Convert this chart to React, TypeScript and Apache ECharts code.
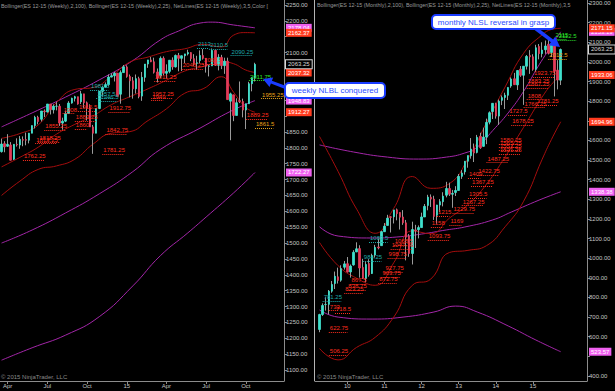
import React, { useEffect, useRef } from 'react';
import * as echarts from 'echarts';

const FONT = '"Liberation Sans", Arial, sans-serif';
const MONTHS = ['Jan', 'Feb', 'Mar', 'Apr', 'May', 'Jun', 'Jul', 'Aug', 'Sep', 'Oct', 'Nov', 'Dec'];

// ---------- categories ----------
const weeklySlotCount = 93; // week-ending Fridays from 2014-03-21
const weeklyCategories: string[] = Array.from({ length: weeklySlotCount }, (_, i) =>
  new Date(Date.UTC(2014, 2, 21) + i * 7 * 86400000).toISOString().slice(0, 10)
);
const monthlySlotCount = 87; // months from 2009-04
const monthlyCategories: string[] = Array.from({ length: monthlySlotCount }, (_, i) => {
  const m = 3 + i;
  return `${2009 + Math.floor(m / 12)}-${String((m % 12) + 1).padStart(2, '0')}`;
});

// ---------- weekly ES 12-15 candles ----------
const weeklyOpen = [
  1788, 1813, 1805, 1809, 1764, 1811, 1809, 1826, 1826, 1824,
  1846, 1870, 1896, 1890, 1916, 1913, 1938, 1920, 1931, 1931,
  1878, 1884, 1908, 1941, 1956, 1961, 1945, 1970, 1942, 1927,
  1866, 1846, 1924, 1978, 1991, 1999, 2023, 2027, 2035, 1969,
  2037, 2055, 2025, 2011, 1986, 2018, 1963, 2022, 2064, 2077,
  2071, 2039, 2027, 2082, 2035, 2041, 2076, 2055, 2091, 2082,
  2090, 2096, 2100, 2081, 2066, 2075, 2091, 2082, 2057, 2058,
  2107, 2060, 2085, 2059, 2073, 1947, 1967, 1902, 1949, 1946,
  1919, 1939, 2002, 2021,
];
const weeklyHigh = [
  1829, 1821, 1843, 1818, 1811, 1830, 1837, 1836, 1848, 1847,
  1870, 1901, 1901, 1916, 1921, 1938, 1938, 1937, 1944, 1938,
  1895, 1917, 1947, 1958, 1964, 1961, 1979, 1970, 1946, 1937,
  1872, 1925, 1978, 1994, 2006, 2031, 2035, 2039, 2036, 2044,
  2061, 2060, 2031, 2023, 2031, 2024, 2039, 2064, 2077, 2086,
  2084, 2050, 2088, 2088, 2063, 2076, 2085, 2094, 2099, 2091,
  2096, 2109, 2101, 2095, 2090, 2107, 2111, 2083, 2062, 2113,
  2109, 2095, 2093, 2084, 2084, 1974, 1967, 1956, 2009, 1955,
  1939, 2008, 2022, 2068,
];
const weeklyLow = [
  1785, 1786, 1803, 1760, 1762, 1804, 1797, 1805, 1808, 1814,
  1846, 1861, 1874, 1883, 1897, 1911, 1905, 1908, 1918, 1869,
  1857, 1881, 1908, 1939, 1946, 1936, 1938, 1925, 1886, 1866,
  1781, 1846, 1922, 1961, 1990, 1994, 2022, 2009, 1962, 1939,
  2036, 2021, 1959, 1955, 1971, 1956, 1948, 2008, 2052, 2070,
  2034, 2006, 2020, 2029, 2019, 2035, 2046, 2053, 2041, 2042,
  2067, 2091, 2073, 2059, 2046, 2066, 2078, 2037, 2025, 2058,
  2058, 2044, 2048, 2033, 1952, 1824, 1884, 1902, 1941, 1896,
  1859, 1938, 1978, 2009,
];
const weeklyClose = [
  1812, 1803, 1811, 1761, 1811, 1809, 1827, 1824, 1824, 1846,
  1870, 1896, 1883, 1916, 1914, 1938, 1920, 1931, 1931, 1878,
  1884, 1908, 1941, 1956, 1961, 1938, 1970, 1942, 1927, 1866,
  1846, 1924, 1978, 1991, 1999, 2023, 2027, 2035, 1962, 2037,
  2055, 2025, 2011, 1986, 2018, 1962, 2022, 2064, 2077, 2071,
  2038, 2020, 2082, 2035, 2041, 2076, 2055, 2091, 2082, 2090,
  2096, 2100, 2081, 2066, 2068, 2091, 2082, 2057, 2058, 2107,
  2060, 2085, 2059, 2073, 1952, 1970, 1902, 1942, 1946, 1919,
  1939, 2002, 2021, 2063,
];

// weekly Bollinger(2,100) & (2,25) read at sample weeks: [weekIndex, value]
const wBB100Upper = [[0, 1866], [10, 1910], [21, 1960], [32, 2014], [43, 2075], [52, 2140], [58, 2168], [65, 2193], [69, 2196], [76, 2187], [83, 2178.04]];
const wBB100Mid = [[0, 1500], [10, 1541], [21, 1595], [32, 1655], [43, 1725], [52, 1795], [65, 1862], [75, 1915], [83, 1948.83]];
const wBB100Lower = [[0, 1131], [10, 1170], [21, 1210], [32, 1268], [43, 1365], [52, 1460], [61, 1532], [67, 1582], [76, 1658], [83, 1722.27]];
const wBB25Upper = [[0, 1830], [6, 1845], [12, 1872], [18, 1943], [24, 1984], [30, 1990], [36, 2026], [42, 2070], [48, 2086], [54, 2103], [60, 2112], [66, 2126], [72, 2118], [76, 2155], [80, 2163], [83, 2162.37]];
const wBB25Mid = [[0, 1740], [6, 1770], [12, 1802], [18, 1843], [24, 1874], [30, 1901], [36, 1936], [42, 1961], [48, 1986], [54, 2013], [60, 2042], [66, 2056], [72, 2071], [76, 2065], [80, 2045], [83, 2037.32]];
const wBB25Lower = [[0, 1650], [6, 1695], [12, 1732], [18, 1743], [24, 1764], [30, 1812], [36, 1846], [42, 1851], [48, 1886], [54, 1923], [60, 1972], [66, 1986], [72, 2024], [76, 1975], [80, 1927], [83, 1912.27]];

// weekly NetLines levels and the week where each label starts
const weeklyRedNets = [1762.25, 1818.25, 1813.25, 1842.75, 1781.25, 1912.75, 1908, 1883.25, 1860, 1855.25, 1915.5, 1957.25, 1949, 2011.25, 2048.25, 2063.5, 1889.25];
const weeklyRedFrom = [7, 12, 11, 34, 33, 35, 20, 24, 24, 14, 25, 49, 49, 50, 59, 66, 80];
const weeklyOrangeNets = [1955.25, 1861.5];
const weeklyOrangeFrom = [85, 83];
const weeklyGreenNets = [2011.75];
const weeklyGreenFrom = [81];
const weeklyTealNets = [2113, 2110.5, 2090.25, 1981.5, 1957.5, 1946.5];
const weeklyTealFrom = [64, 68, 75, 29, 31, 32];

// weekly right-axis markers
const weeklyMarkerValues = [2178.04, 1948.83, 1722.27, 2162.37, 2037.32, 1912.27, 2063.25];
const weeklyMarkerKinds = ['bb100', 'bb100', 'bb100', 'bb25', 'bb25', 'bb25', 'last'];

// ---------- monthly ES 12-15 candles (Apr 2009 - Oct 2015) ----------
const monthlyOpen = [
  637, 713, 764, 765, 832, 871, 905, 888, 954,
  972, 930, 966, 1032, 1049, 953, 897, 973, 922, 1016, 1057, 1064,
  1135, 1167, 1211, 1211, 1247, 1233, 1210, 1180, 1113, 1024, 1144, 1145,
  1156, 1210, 1269, 1311, 1301, 1219, 1271, 1288, 1321, 1355, 1326, 1335,
  1345, 1417, 1440, 1494, 1522, 1561, 1539, 1620, 1570, 1617, 1693, 1747,
  1787, 1724, 1804, 1819, 1830, 1877, 1914, 1883, 1963, 1932, 1978, 2032,
  2026, 1963, 2079, 2042, 2062, 2090, 2048, 2086, 1958, 1907,
];
const monthlyHigh = [
  717, 770, 801, 838, 884, 932, 952, 964, 986,
  1006, 968, 1041, 1081, 1066, 997, 986, 995, 1023, 1068, 1100, 1139,
  1179, 1221, 1214, 1246, 1253, 1234, 1245, 1195, 1123, 1186, 1170, 1167,
  1232, 1276, 1323, 1325, 1318, 1272, 1301, 1336, 1389, 1385, 1348, 1367,
  1429, 1449, 1495, 1522, 1612, 1584, 1628, 1639, 1665, 1711, 1748, 1790,
  1792, 1808, 1829, 1843, 1870, 1921, 1944, 1958, 1979, 1978, 2035, 2060,
  2039, 2087, 2091, 2100, 2109, 2111, 2113, 2094, 2009, 2068,
];
const monthlyLow = [
  623, 706, 733, 714, 824, 843, 871, 880, 942,
  927, 901, 962, 1031, 901, 894, 877, 906, 920, 1003, 1045, 1064,
  1134, 1167, 1131, 1177, 1193, 1146, 1170, 989, 1007, 968, 1052, 1101,
  1156, 1210, 1244, 1261, 1195, 1176, 1234, 1264, 1310, 1317, 1257, 1317,
  1345, 1404, 1426, 1461, 1507, 1490, 1534, 1557, 1568, 1581, 1682, 1709,
  1711, 1679, 1780, 1760, 1806, 1868, 1883, 1857, 1924, 1781, 1961, 1939,
  1955, 1948, 2013, 2023, 2041, 2038, 2025, 1824, 1860, 1882,
];
const monthlyClose = [
  713, 759, 764, 832, 866, 908, 887, 947, 971,
  930, 960, 1030, 1048, 950, 897, 968, 915, 1013, 1055, 1053, 1135,
  1163, 1204, 1208, 1246, 1227, 1209, 1180, 1107, 1024, 1146, 1140, 1156,
  1210, 1264, 1311, 1301, 1213, 1271, 1288, 1316, 1355, 1326, 1330, 1345,
  1417, 1434, 1494, 1523, 1556, 1536, 1616, 1563, 1617, 1692, 1741, 1789,
  1724, 1800, 1818, 1830, 1870, 1913, 1884, 1956, 1932, 1978, 2028, 2026,
  1962, 2072, 2042, 2060, 2081, 2044, 2085, 1953, 1908, 2063,
];

const mBB100Upper = [[0, 1577], [11, 1541], [22, 1515], [32, 1505], [41, 1515], [47, 1536], [51, 1566], [56, 1650], [61, 1740], [66, 1850], [71, 1985], [78, 2153.19]];
const mBB100Mid = [[0, 1160], [6, 1113], [17, 1103], [25, 1108], [33, 1123], [41, 1144], [47, 1159], [56, 1195], [62, 1235], [71, 1296], [78, 1338.38]];
const mBB100Lower = [[0, 736], [6, 700], [17, 690], [27, 700], [37, 726], [44, 756], [51, 726], [61, 655], [70, 583], [78, 523.57]];
const mBB25Upper = [[0, 1620], [6, 1442], [12, 1250], [18, 1127], [24, 1254], [30, 1416], [36, 1356], [42, 1380], [48, 1507], [54, 1690], [60, 1872], [66, 2044], [72, 2138], [75, 2165], [78, 2171.15]];
const mBB25Mid = [[0, 1080], [6, 962], [12, 898], [18, 862], [24, 977], [30, 1139], [36, 1125], [42, 1204], [48, 1273], [54, 1377], [60, 1516], [66, 1667], [72, 1821], [75, 1885], [78, 1933.06]];
const mBB25Lower = [[0, 540], [6, 482], [12, 546], [18, 597], [24, 700], [30, 862], [36, 894], [42, 1029], [48, 1040], [54, 1064], [60, 1160], [66, 1290], [72, 1504], [75, 1605], [78, 1694.96]];

const monthlyRedNets = [1923.75, 1883.25, 1867.75, 1808, 1781.25, 1766.75, 1727.5, 1678.25, 1580.25, 1565.75, 1551.25, 1531.25, 1487.25, 1422.75, 1409, 1367.25, 1305.5, 1267.25, 1229.75, 1215, 1169, 1158, 1093.75, 1068.5, 1047.75, 998.75, 927.75, 903.75, 872.75, 867.5, 838.75, 823.25, 733, 718.5, 622.75, 506.25];
const monthlyRedFrom = [69, 67, 67, 67, 70, 66, 61, 62, 58, 58, 58, 58, 54, 51, 48, 49, 48, 46, 43, 38, 42, 36, 35, 24, 23, 22, 21, 20, 19, 10, 9, 8, 3, 5, 3, 3];
const monthlyOrangeNets = [2012.5];
const monthlyOrangeFrom = [74];
const monthlyGreenNets = [2115, 2112.5];
const monthlyGreenFrom = [76, 77];
const monthlyTealNets = [984.25, 1083.5, 781.25];
const monthlyTealFrom = [14, 16, 1];

const monthlyMarkerValues = [2153.19, 1338.38, 523.57, 2171.15, 1933.06, 1694.96, 2063.25];
const monthlyMarkerKinds = ['bb100', 'bb100', 'bb100', 'bb25', 'bb25', 'bb25', 'last'];

// axis ticks, and the tick labels left visible (the others sit under the price markers)
const weeklyTicks = [1100, 1150, 1200, 1250, 1300, 1350, 1400, 1450, 1500, 1550, 1600, 1650, 1700, 1750, 1800, 1850, 1900, 1950, 2000, 2050, 2100, 2150, 2200, 2250];
const weeklyTickLabels = [1100, 1150, 1200, 1250, 1300, 1350, 1400, 1450, 1500, 1550, 1600, 1650, 1700, 1750, 1800, 1850, 2100, 2200, 2250];
const monthlyTicks = [400, 500, 600, 700, 800, 900, 1000, 1100, 1200, 1300, 1400, 1500, 1600, 1700, 1800, 1900, 2000, 2100, 2200, 2300];
const monthlyTickLabels = [400, 600, 700, 800, 900, 1000, 1100, 1200, 1300, 1400, 1500, 1600, 1800, 1900, 2000, 2100, 2200, 2300];

// ---------- styles ----------
const UP = '#3fe0cc';
const DOWN = '#e23a58';
const WICK = '#9a9a9a';
const BB25C = '#a50d0d';
const BB100C = '#a326a8';
const RED = '#ff2d1e';
const ORANGE = '#e8a319';
const GREEN = '#2be02b';
const TEAL = '#1ea8a8';
const AXIS = '#8c8c8c';
const LABEL = '#c4c4c4';

function netItems(values: number[], from: number[], color: string) {
  return values.map((v, i) => {
    const text = String(v);
    return [
      {
        coord: [from[i], v],
        lineStyle: { color, type: 'dotted', width: 1, opacity: 1 },
        label: { show: true, position: 'insideStartTop', formatter: text, color, fontSize: 6, fontFamily: FONT, distance: 1 },
      },
      { coord: [from[i] + text.length, v] },
    ];
  });
}

const markerStyles: Record<string, any> = {
  bb100: { backgroundColor: '#f060f0', color: '#ffffff' },
  bb25: { backgroundColor: '#ff3b1f', color: '#ffffff' },
  last: { backgroundColor: '#000000', color: '#d8d8d8', borderColor: '#d8d8d8', borderWidth: 1 },
};
function markerItems(values: number[], kinds: string[]) {
  return values.map((v, i) => ({
    yAxis: v,
    lineStyle: { color: 'rgba(0,0,0,0)', width: 1, type: 'solid' },
    label: {
      show: true,
      position: 'end',
      distance: 2,
      formatter: v.toFixed(2),
      fontSize: 6,
      fontFamily: FONT,
      padding: [1, 2, 0, 2],
      lineHeight: 7,
      opacity: 1,
      ...markerStyles[kinds[i]],
    },
  }));
}

function lineSeries(data: number[][], color: string, axis: number) {
  return {
    type: 'line', xAxisIndex: axis, yAxisIndex: axis, data, smooth: 0.5, symbol: 'none', silent: true,
    lineStyle: { color, width: 1 }, z: 2,
  };
}

function candleSeries(o: number[], h: number[], l: number[], c: number[], axis: number, marks: any[]) {
  const wicks = o.map((v, i) => [v, c[i], l[i], h[i]]);
  const bodies = o.map((v, i) => [v, c[i], Math.min(v, c[i]), Math.max(v, c[i])]);
  return [
    {
      type: 'candlestick', xAxisIndex: axis, yAxisIndex: axis, data: wicks, barWidth: 1, silent: true, z: 3,
      itemStyle: { color: WICK, color0: WICK, borderColor: WICK, borderColor0: WICK, borderWidth: 1 },
    },
    {
      type: 'candlestick', xAxisIndex: axis, yAxisIndex: axis, data: bodies, barWidth: 2, silent: true, z: 4,
      itemStyle: { color: UP, color0: DOWN, borderColor: UP, borderColor0: DOWN, borderWidth: 0.8 },
      markLine: { symbol: ['none', 'none'], silent: true, animation: false, precision: 2, data: marks },
    },
  ];
}

const weeklyShow = (idx: number, val: string) => {
  if (idx === 0) return false;
  const m = +val.slice(5, 7);
  return m !== +weeklyCategories[idx - 1].slice(5, 7) && m % 3 === 1;
};
const weeklyFmt = (val: string) => {
  const m = +val.slice(5, 7);
  return m === 1 ? val.slice(2, 4) : MONTHS[m - 1];
};
const monthlyShow = (_idx: number, val: string) => val.endsWith('-01') && +val.slice(0, 4) <= 2015;
const monthlyFmt = (val: string) => val.slice(2, 4);

function xAxisCfg(grid: number, data: string[], show: any, fmt: any) {
  return {
    type: 'category', gridIndex: grid, data, boundaryGap: true,
    axisLine: { show: true, lineStyle: { color: AXIS } },
    axisTick: { show: true, interval: show, alignWithLabel: true, length: 3, lineStyle: { color: AXIS } },
    axisLabel: { interval: show, formatter: fmt, fontSize: 6, color: LABEL, fontFamily: FONT, margin: 2 },
    splitLine: { show: false },
  };
}
function yAxisCfg(grid: number, min: number, max: number, ticks: number[], labels: number[]) {
  return {
    type: 'value', gridIndex: grid, position: 'right', min, max,
    axisLine: { show: true, lineStyle: { color: AXIS } },
    axisTick: { show: true, length: 3, customValues: ticks, lineStyle: { color: AXIS } },
    axisLabel: { customValues: labels, formatter: (v: number) => v.toFixed(2), fontSize: 6, color: LABEL, fontFamily: FONT, margin: 2 },
    splitLine: { show: false },
  };
}

function buildOption() {
  const weeklyMarks = [
    ...netItems(weeklyRedNets, weeklyRedFrom, RED),
    ...netItems(weeklyOrangeNets, weeklyOrangeFrom, ORANGE),
    ...netItems(weeklyGreenNets, weeklyGreenFrom, GREEN),
    ...netItems(weeklyTealNets, weeklyTealFrom, TEAL),
    ...markerItems(weeklyMarkerValues, weeklyMarkerKinds),
  ];
  const monthlyMarks = [
    ...netItems(monthlyRedNets, monthlyRedFrom, RED),
    ...netItems(monthlyOrangeNets, monthlyOrangeFrom, ORANGE),
    ...netItems(monthlyGreenNets, monthlyGreenFrom, GREEN),
    ...netItems(monthlyTealNets, monthlyTealFrom, TEAL),
    ...markerItems(monthlyMarkerValues, monthlyMarkerKinds),
  ];
  const headerStyle = { fill: '#9a9a9a', font: `5.4px ${FONT}`, overflow: 'truncate', ellipsis: '' };
  return {
    animation: false,
    backgroundColor: '#000000',
    grid: [
      { left: 0, right: 331, top: 0, bottom: 10 },
      { left: 318, right: 28, top: 0, bottom: 10 },
    ],
    xAxis: [
      xAxisCfg(0, weeklyCategories, weeklyShow, weeklyFmt),
      xAxisCfg(1, monthlyCategories, monthlyShow, monthlyFmt),
    ],
    yAxis: [
      yAxisCfg(0, 1065.34, 2265.75, weeklyTicks, weeklyTickLabels),
      yAxisCfg(1, 374.5, 2315.3, monthlyTicks, monthlyTickLabels),
    ],
    series: [
      lineSeries(wBB100Upper, BB100C, 0),
      lineSeries(wBB100Mid, BB100C, 0),
      lineSeries(wBB100Lower, BB100C, 0),
      lineSeries(wBB25Upper, BB25C, 0),
      lineSeries(wBB25Mid, BB25C, 0),
      lineSeries(wBB25Lower, BB25C, 0),
      ...candleSeries(weeklyOpen, weeklyHigh, weeklyLow, weeklyClose, 0, weeklyMarks),
      lineSeries(mBB100Upper, BB100C, 1),
      lineSeries(mBB100Mid, BB100C, 1),
      lineSeries(mBB100Lower, BB100C, 1),
      lineSeries(mBB25Upper, BB25C, 1),
      lineSeries(mBB25Mid, BB25C, 1),
      lineSeries(mBB25Lower, BB25C, 1),
      ...candleSeries(monthlyOpen, monthlyHigh, monthlyLow, monthlyClose, 1, monthlyMarks),
    ],
    graphic: [
      { type: 'line', silent: true, shape: { x1: 314.5, y1: 0, x2: 314.5, y2: 381 }, style: { stroke: '#b4b4b4', lineWidth: 1 } },
      { type: 'line', silent: true, shape: { x1: 314.5, y1: 381.5, x2: 318, y2: 381.5 }, style: { stroke: AXIS, lineWidth: 1 } },
      {
        type: 'text', silent: true, x: 1, y: 3,
        style: { ...headerStyle, width: 282, text: 'Bollinger(ES 12-15 (Weekly),2,100), Bollinger(ES 12-15 (Weekly),2,25), NetLines(ES 12-15 (Weekly),3,5,Color [' },
      },
      {
        type: 'text', silent: true, x: 317, y: 2,
        style: { ...headerStyle, width: 268, text: 'Bollinger(ES 12-15 (Monthly),2,100), Bollinger(ES 12-15 (Monthly),2,25), NetLines(ES 12-15 (Monthly),3,5' },
      },
      { type: 'text', silent: true, x: 1, y: 374, style: { text: '© 2015 NinjaTrader, LLC', fill: '#8a8a8a', font: `6px ${FONT}` } },
      { type: 'text', silent: true, x: 317, y: 374, style: { text: '© 2015 NinjaTrader, LLC', fill: '#8a8a8a', font: `6px ${FONT}` } },
      // arrows
      {
        type: 'polygon', silent: true, z: 50,
        shape: { points: [[287.5, 86.6], [271.9, 80.8], [273.2, 77.5], [263, 79], [269.6, 86.9], [270.9, 83.6], [286.5, 89.4]] },
        style: { fill: '#1a3cff' },
      },
      {
        type: 'polygon', silent: true, z: 50,
        shape: { points: [[533.9, 29.4], [550.9, 42.3], [548.7, 45.3], [560, 47], [555.3, 36.5], [553.1, 39.5], [536.1, 26.6]] },
        style: { fill: '#1a3cff' },
      },
      // annotation boxes
      {
        type: 'rect', silent: true, z: 51,
        shape: { x: 285, y: 83, width: 100, height: 15, r: 4 },
        style: { fill: '#ffffff', stroke: '#1a3cff', lineWidth: 2 },
      },
      {
        type: 'text', silent: true, z: 52, x: 335, y: 90.5,
        style: { text: 'weekly NLBL conquered', fill: '#2a4cff', font: `8px ${FONT}`, align: 'center', verticalAlign: 'middle' },
      },
      {
        type: 'rect', silent: true, z: 51,
        shape: { x: 432, y: 15, width: 123, height: 14, r: 4 },
        style: { fill: '#ffffff', stroke: '#1a3cff', lineWidth: 2 },
      },
      {
        type: 'text', silent: true, z: 52, x: 493.5, y: 22,
        style: { text: 'monthly NLSL reversal in grasp', fill: '#2a4cff', font: `8px ${FONT}`, align: 'center', verticalAlign: 'middle' },
      },
    ],
  };
}

export default function App() {
  const ref = useRef<HTMLDivElement>(null);
  useEffect(() => {
    if (!ref.current) return;
    const chart = echarts.init(ref.current, undefined, { renderer: 'svg' });
    chart.setOption(buildOption() as any);
    return () => chart.dispose();
  }, []);
  return (
    <div
      ref={ref}
      style={{ position: 'absolute', left: 0, top: 0, width: 615, height: 391, background: '#000' }}
    />
  );
}
